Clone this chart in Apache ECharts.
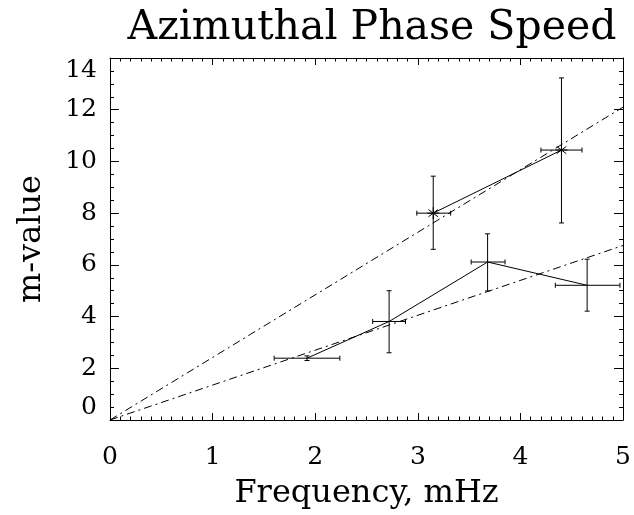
<!DOCTYPE html>
<html>
<head>
<meta charset="utf-8">
<script src="https://cdn.jsdelivr.net/npm/echarts@6/dist/echarts.min.js"></script>
<style>
  html, body { margin: 0; padding: 0; background: #fff; }
  #chart { width: 634px; height: 515px; }
</style>
</head>
<body>
<div id="chart"></div>
<script>
// upper set (asterisks)
const upFreq = [3.15, 4.40];
const upM = [8.0, 10.44];
const upFreqLo = [2.99, 4.20];
const upFreqHi = [3.32, 4.60];
const upMLo = [6.6, 7.62];
const upMHi = [9.43, 13.23];

// lower set (plain error crosses)
const lowFreq = [1.92, 2.72, 3.68, 4.65];
const lowM = [2.39, 3.81, 6.11, 5.21];
const lowFreqLo = [1.60, 2.56, 3.52, 4.34];
const lowFreqHi = [2.24, 2.88, 3.85, 4.97];
const lowMLo = [2.30, 2.60, 4.99, 4.21];
const lowMHi = [2.48, 5.00, 7.20, 6.22];

// dash-dot fit lines through the origin
const fitUpper = [[0, 0], [5, 12.1]];
const fitLower = [[0, 0], [5, 6.75]];

const FONT = "DejaVu Serif";

const toRows = (x, y, xl, xh, yl, yh) => x.map((v, i) => [v, y[i], xl[i], xh[i], yl[i], yh[i]]);
const upRows = toRows(upFreq, upM, upFreqLo, upFreqHi, upMLo, upMHi);
const lowRows = toRows(lowFreq, lowM, lowFreqLo, lowFreqHi, lowMLo, lowMHi);

const stroke = { stroke: '#000', lineWidth: 1 };
const seg = (x1, y1, x2, y2) => ({ type: 'line', shape: { x1, y1, x2, y2 }, style: stroke });

const renderErr = (params, api) => {
  const c = api.coord([api.value(0), api.value(1)]);
  const l = api.coord([api.value(2), api.value(1)]);
  const r = api.coord([api.value(3), api.value(1)]);
  const b = api.coord([api.value(0), api.value(4)]);
  const t = api.coord([api.value(0), api.value(5)]);
  const cap = 2.5;
  return {
    type: 'group',
    children: [
      seg(l[0], c[1], r[0], c[1]),
      seg(l[0], c[1] - cap, l[0], c[1] + cap),
      seg(r[0], c[1] - cap, r[0], c[1] + cap),
      seg(c[0], b[1], c[0], t[1]),
      seg(c[0] - cap, b[1], c[0] + cap, b[1]),
      seg(c[0] - cap, t[1], c[0] + cap, t[1])
    ]
  };
};

const renderStar = (params, api) => {
  const c = api.coord([api.value(0), api.value(1)]);
  const s = 6;
  return {
    type: 'group',
    children: [
      seg(c[0] - s, c[1], c[0] + s, c[1]),
      seg(c[0], c[1] - s, c[0], c[1] + s),
      seg(c[0] - s * 0.8, c[1] - s * 0.6, c[0] + s * 0.8, c[1] + s * 0.6),
      seg(c[0] - s * 0.8, c[1] + s * 0.6, c[0] + s * 0.8, c[1] - s * 0.6)
    ]
  };
};

const baseX = {
  type: 'value', min: 0, max: 5, interval: 1,
  axisLine: { show: true, onZero: false, lineStyle: { color: '#000', width: 1 } },
  axisTick: { show: true, inside: true, length: 7, lineStyle: { color: '#000' } },
  minorTick: { show: true, splitNumber: 10, length: 3.5, lineStyle: { color: '#000' } },
  splitLine: { show: false }
};
const baseY = {
  type: 'value', min: 0, max: 14, interval: 2,
  axisLine: { show: true, onZero: false, lineStyle: { color: '#000', width: 1 } },
  axisTick: { show: true, inside: true, length: 9, lineStyle: { color: '#000' } },
  minorTick: { show: true, splitNumber: 4, length: 4, lineStyle: { color: '#000' } },
  splitLine: { show: false }
};

const chart = echarts.init(document.getElementById('chart'));
chart.setOption({
  animation: false,
  backgroundColor: '#fff',
  title: {
    text: 'Azimuthal Phase Speed',
    left: 367, top: 3, textAlign: 'center',
    textStyle: { fontFamily: FONT, fontSize: 41, fontWeight: 'normal', color: '#000' }
  },
  grid: { left: 110, right: 9, top: 58, bottom: 94 },
  xAxis: [
    Object.assign({}, baseX, {
      position: 'bottom',
      name: 'Frequency, mHz', nameLocation: 'middle', nameGap: 58,
      nameTextStyle: { fontFamily: FONT, fontSize: 32, color: '#000' },
      axisLabel: { fontFamily: FONT, fontSize: 25, color: '#000', margin: 25 }
    }),
    Object.assign({}, baseX, { position: 'top', axisLabel: { show: false } })
  ],
  yAxis: [
    Object.assign({}, baseY, {
      position: 'left',
      name: 'm-value', nameLocation: 'middle', nameGap: 62,
      nameTextStyle: { fontFamily: FONT, fontSize: 32, color: '#000' },
      axisLabel: {
        fontFamily: FONT, fontSize: 25, color: '#000', margin: 13,
        verticalAlignMaxLabel: 'top', verticalAlignMinLabel: 'bottom'
      }
    }),
    Object.assign({}, baseY, { position: 'right', axisLabel: { show: false } })
  ],
  series: [
    {
      type: 'line', data: fitUpper, symbol: 'none', silent: true,
      lineStyle: { color: '#000', width: 1, type: [8, 4, 2, 4] }
    },
    {
      type: 'line', data: fitLower, symbol: 'none', silent: true,
      lineStyle: { color: '#000', width: 1, type: [8, 4, 2, 4] }
    },
    {
      type: 'line', data: upFreq.map((v, i) => [v, upM[i]]), symbol: 'none',
      lineStyle: { color: '#000', width: 1 }
    },
    {
      type: 'line', data: lowFreq.map((v, i) => [v, lowM[i]]), symbol: 'none',
      lineStyle: { color: '#000', width: 1 }
    },
    { type: 'custom', renderItem: renderErr, data: upRows, clip: true },
    { type: 'custom', renderItem: renderErr, data: lowRows, clip: true },
    { type: 'custom', renderItem: renderStar, data: upRows, clip: true }
  ]
});
</script>
</body>
</html>
